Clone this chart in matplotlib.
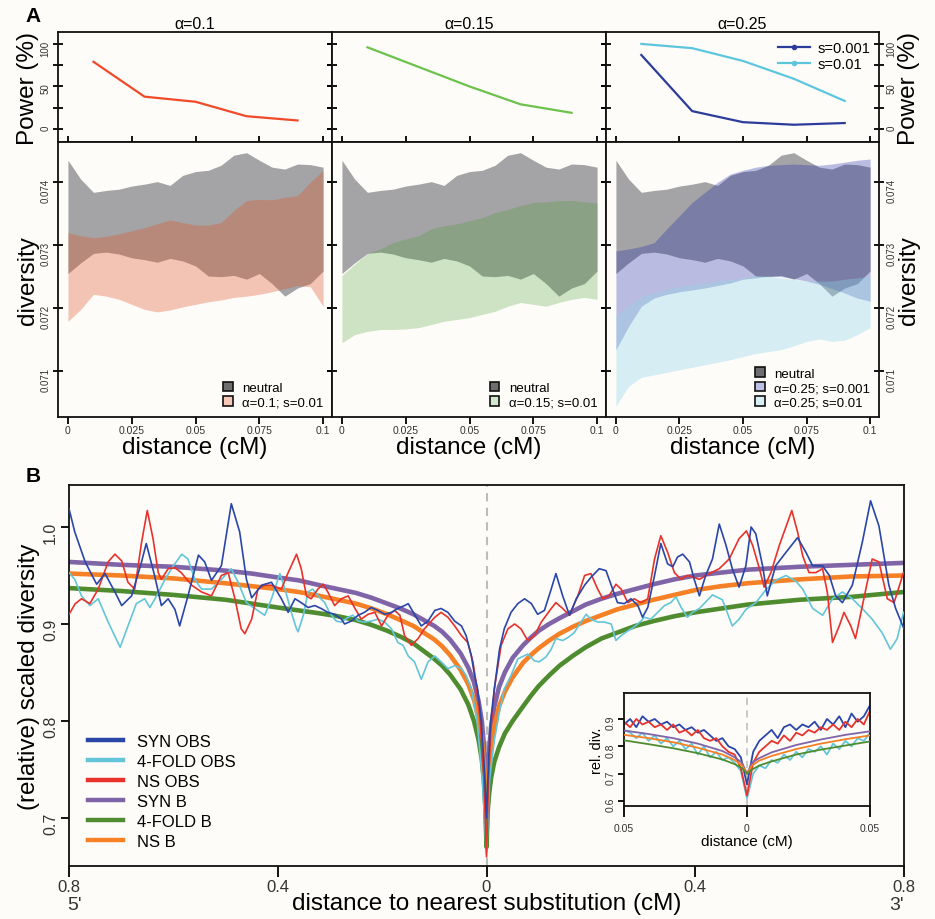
import matplotlib
matplotlib.use('Agg')
import matplotlib.pyplot as plt
from matplotlib.lines import Line2D
from matplotlib.patches import Patch

plt.rcParams['font.family'] = ['Liberation Sans', 'DejaVu Sans']

BG = '#fdfcf9'

# ── Panel A: power of the test ───────────────────────────────────────────────
POWER_DIST = [0.01, 0.03, 0.05, 0.07, 0.09]
power_a010 = [79, 38, 32, 15, 10]
power_a015 = [96, 73, 50, 29, 19]
power_a025_s0001 = [87, 21, 8, 5, 7]
power_a025_s001 = [100, 95, 80, 59, 33]

# ── Panel A: diversity bands ─────────────────────────────────────────────────
DIV_DIST = [0.0, 0.005, 0.01, 0.015, 0.02, 0.025, 0.03, 0.035, 0.04, 0.045, 0.05,
            0.055, 0.06, 0.065, 0.07, 0.075, 0.08, 0.085, 0.09, 0.095, 0.1]
neutral_hi = [0.07435, 0.07405, 0.07384, 0.07387, 0.07389, 0.07394, 0.07397, 0.07401, 0.07395, 0.07411, 0.07417,
              0.07419, 0.07427, 0.07443, 0.07447, 0.07435, 0.07424, 0.07421, 0.07429, 0.07428, 0.07424]
neutral_lo = [0.07255, 0.07272, 0.07287, 0.07289, 0.07286, 0.07280, 0.07277, 0.07273, 0.07279, 0.07275, 0.07267,
              0.07251, 0.07250, 0.07252, 0.07246, 0.07255, 0.07239, 0.07219, 0.07232, 0.07239, 0.07259]
a010_hi = [0.07320, 0.07315, 0.07312, 0.07314, 0.07318, 0.07323, 0.07328, 0.07334, 0.07340, 0.07336, 0.07332,
           0.07332, 0.07336, 0.07355, 0.07371, 0.07373, 0.07372, 0.07376, 0.07379, 0.07400, 0.07419]
a010_lo = [0.07179, 0.07198, 0.07222, 0.07219, 0.07214, 0.07206, 0.07198, 0.07194, 0.07197, 0.07202, 0.07206,
           0.07210, 0.07213, 0.07217, 0.07219, 0.07222, 0.07226, 0.07231, 0.07236, 0.07234, 0.07203]
a015_hi = [0.07252, 0.07270, 0.07287, 0.07294, 0.07304, 0.07310, 0.07315, 0.07326, 0.07331, 0.07334, 0.07339,
           0.07344, 0.07352, 0.07357, 0.07363, 0.07368, 0.07369, 0.07371, 0.07371, 0.07369, 0.07367]
a015_lo = [0.07145, 0.07158, 0.07163, 0.07166, 0.07166, 0.07167, 0.07169, 0.07174, 0.07179, 0.07182, 0.07185,
           0.07190, 0.07195, 0.07203, 0.07209, 0.07206, 0.07203, 0.07209, 0.07214, 0.07217, 0.07214]
a025_s0001_hi = [0.07291, 0.07294, 0.07298, 0.07304, 0.07326, 0.07347, 0.07368, 0.07384, 0.07400, 0.07413, 0.07419,
                 0.07424, 0.07427, 0.07428, 0.07429, 0.07428, 0.07427, 0.07429, 0.07432, 0.07435, 0.07437]
a025_s0001_lo = [0.07134, 0.07171, 0.07203, 0.07216, 0.07222, 0.07226, 0.07229, 0.07232, 0.07236, 0.07240, 0.07246,
                 0.07248, 0.07251, 0.07250, 0.07247, 0.07243, 0.07238, 0.07231, 0.07224, 0.07216, 0.07211]
a025_s001_hi = [0.07187, 0.07203, 0.07219, 0.07224, 0.07230, 0.07235, 0.07238, 0.07240, 0.07243, 0.07246, 0.07248,
                0.07251, 0.07251, 0.07248, 0.07246, 0.07243, 0.07243, 0.07243, 0.07246, 0.07248, 0.07251]
a025_s001_lo = [0.07044, 0.07076, 0.07090, 0.07094, 0.07098, 0.07102, 0.07106, 0.07110, 0.07114, 0.07118, 0.07123,
                0.07128, 0.07131, 0.07134, 0.07140, 0.07147, 0.07151, 0.07147, 0.07149, 0.07158, 0.07169]

# ── Panel B: model (B) curves ────────────────────────────────────────────────
B_DIST = [-0.8, -0.7, -0.6, -0.5, -0.45, -0.4, -0.36, -0.32, -0.285, -0.25, -0.22, -0.19, -0.165, -0.14,
          -0.12, -0.1, -0.085, -0.07, -0.05, -0.035, -0.024, -0.015, -0.009, -0.005, -0.002, 0.0,
          0.002, 0.005, 0.009, 0.015, 0.024, 0.035, 0.05, 0.07, 0.085, 0.1, 0.12, 0.14, 0.165, 0.19,
          0.22, 0.25, 0.285, 0.32, 0.36, 0.4, 0.45, 0.5, 0.6, 0.7, 0.8]
syn_b = [0.964, 0.961, 0.959, 0.955, 0.952, 0.948, 0.945, 0.940, 0.936, 0.932, 0.927, 0.921, 0.916, 0.910,
         0.904, 0.898, 0.892, 0.884, 0.870, 0.855, 0.840, 0.820, 0.800, 0.775, 0.740, 0.680,
         0.740, 0.770, 0.795, 0.815, 0.835, 0.850, 0.865, 0.878, 0.886, 0.893, 0.900, 0.906, 0.913, 0.920,
         0.926, 0.931, 0.936, 0.941, 0.946, 0.950, 0.953, 0.956, 0.959, 0.961, 0.963]
ns_b = [0.952, 0.950, 0.947, 0.942, 0.939, 0.936, 0.933, 0.929, 0.925, 0.921, 0.916, 0.910, 0.904, 0.898,
        0.891, 0.884, 0.877, 0.868, 0.853, 0.838, 0.822, 0.802, 0.782, 0.757, 0.725, 0.675,
        0.725, 0.752, 0.775, 0.795, 0.815, 0.830, 0.845, 0.860, 0.868, 0.875, 0.883, 0.890, 0.897, 0.903,
        0.909, 0.915, 0.920, 0.925, 0.930, 0.935, 0.939, 0.942, 0.946, 0.949, 0.950]
fold_b = [0.937, 0.934, 0.930, 0.925, 0.921, 0.917, 0.914, 0.911, 0.908, 0.904, 0.899, 0.893, 0.887, 0.880,
          0.872, 0.864, 0.857, 0.848, 0.833, 0.817, 0.800, 0.780, 0.760, 0.738, 0.710, 0.670,
          0.705, 0.725, 0.742, 0.758, 0.773, 0.787, 0.800, 0.815, 0.826, 0.836, 0.847, 0.857, 0.867, 0.876,
          0.885, 0.891, 0.898, 0.903, 0.908, 0.912, 0.916, 0.920, 0.925, 0.928, 0.933]

# ── Panel B: observed curves ─────────────────────────────────────────────────
syn_obs_x = [-0.800, -0.789, -0.769, -0.747, -0.731, -0.712, -0.699, -0.680, -0.661, -0.652, -0.636, -0.623,
             -0.610, -0.597, -0.588, -0.572, -0.552, -0.540, -0.527, -0.508, -0.489, -0.473, -0.460, -0.450,
             -0.431, -0.412, -0.393, -0.380, -0.367, -0.355, -0.342, -0.329, -0.317, -0.304, -0.291, -0.278,
             -0.272, -0.259, -0.246, -0.234, -0.221, -0.208, -0.195, -0.182, -0.170, -0.157, -0.150, -0.138,
             -0.125, -0.112, -0.099, -0.087, -0.074, -0.061, -0.048, -0.039, -0.029, -0.023, -0.017, -0.010,
             -0.004, 0.0, 0.004, 0.008, 0.015, 0.025, 0.034, 0.047, 0.060, 0.073, 0.086, 0.098, 0.111, 0.124,
             0.133, 0.146, 0.159, 0.172, 0.188, 0.200, 0.216, 0.229, 0.239, 0.251, 0.264, 0.277, 0.290, 0.299,
             0.309, 0.322, 0.334, 0.347, 0.357, 0.366, 0.376, 0.389, 0.398, 0.408, 0.420, 0.433, 0.446, 0.459,
             0.471, 0.484, 0.497, 0.507, 0.516, 0.529, 0.538, 0.554, 0.574, 0.596, 0.612, 0.625, 0.644, 0.657,
             0.669, 0.682, 0.701, 0.720, 0.736, 0.752, 0.771, 0.784, 0.800]
syn_obs_y = [1.019, 0.995, 0.964, 0.941, 0.952, 0.933, 0.919, 0.929, 0.964, 0.983, 0.950, 0.919,
             0.926, 0.915, 0.898, 0.929, 0.971, 0.964, 0.945, 0.960, 1.024, 0.995, 0.946, 0.927,
             0.940, 0.943, 0.926, 0.912, 0.926, 0.922, 0.917, 0.919, 0.916, 0.912, 0.910, 0.905,
             0.900, 0.903, 0.909, 0.912, 0.917, 0.914, 0.910, 0.912, 0.916, 0.919, 0.921, 0.910,
             0.898, 0.903, 0.914, 0.916, 0.912, 0.903, 0.898, 0.888, 0.867, 0.847, 0.833, 0.800,
             0.750, 0.700, 0.760, 0.800, 0.833, 0.874, 0.895, 0.912, 0.921, 0.926, 0.921, 0.910, 0.914, 0.936,
             0.952, 0.929, 0.909, 0.926, 0.940, 0.948, 0.957, 0.955, 0.940, 0.922, 0.921, 0.926, 0.919, 0.907,
             0.917, 0.950, 0.983, 0.962, 0.959, 0.969, 0.972, 0.964, 0.946, 0.929, 0.950, 0.967, 1.003, 0.981,
             0.957, 0.938, 0.960, 1.000, 0.993, 0.960, 0.929, 0.960, 0.974, 0.989, 0.974, 0.960, 0.960, 0.950,
             0.929, 0.922, 0.940, 0.984, 1.027, 1.001, 0.940, 0.916, 0.895]

fold_obs_x = [-0.800, -0.789, -0.776, -0.760, -0.744, -0.725, -0.702, -0.687, -0.671, -0.655, -0.645, -0.632,
              -0.616, -0.600, -0.584, -0.572, -0.559, -0.546, -0.527, -0.508, -0.489, -0.476, -0.460, -0.444,
              -0.425, -0.412, -0.396, -0.386, -0.374, -0.364, -0.361, -0.351, -0.342, -0.333, -0.323, -0.310,
              -0.301, -0.288, -0.278, -0.265, -0.256, -0.246, -0.234, -0.221, -0.208, -0.195, -0.182, -0.170,
              -0.160, -0.150, -0.138, -0.125, -0.112, -0.099, -0.087, -0.074, -0.061, -0.048, -0.039, -0.029,
              -0.018, -0.008, 0.0, 0.006, 0.015, 0.025, 0.034, 0.047, 0.060, 0.079, 0.092, 0.101, 0.114, 0.124,
              0.133, 0.146, 0.156, 0.168, 0.181, 0.191, 0.200, 0.213, 0.226, 0.239, 0.248, 0.258, 0.271, 0.283,
              0.296, 0.302, 0.315, 0.328, 0.341, 0.353, 0.363, 0.373, 0.385, 0.395, 0.408, 0.433, 0.452, 0.471,
              0.484, 0.497, 0.516, 0.535, 0.554, 0.574, 0.593, 0.606, 0.625, 0.644, 0.663, 0.682, 0.701, 0.720,
              0.739, 0.758, 0.774, 0.787, 0.799]
fold_obs_y = [0.953, 0.946, 0.929, 0.919, 0.926, 0.902, 0.876, 0.898, 0.921, 0.926, 0.917, 0.929,
              0.946, 0.960, 0.972, 0.967, 0.946, 0.936, 0.936, 0.946, 0.957, 0.943, 0.922, 0.916,
              0.909, 0.926, 0.952, 0.936, 0.912, 0.895, 0.892, 0.909, 0.933, 0.936, 0.929, 0.922,
              0.912, 0.903, 0.902, 0.907, 0.909, 0.903, 0.902, 0.903, 0.905, 0.902, 0.895, 0.881,
              0.878, 0.867, 0.861, 0.843, 0.861, 0.867, 0.861, 0.854, 0.857, 0.854, 0.847, 0.833,
              0.800, 0.740, 0.663, 0.740, 0.780, 0.810, 0.833, 0.847, 0.864, 0.869, 0.862, 0.861, 0.866, 0.874,
              0.885, 0.883, 0.886, 0.891, 0.902, 0.910, 0.905, 0.902, 0.902, 0.900, 0.883, 0.888, 0.893, 0.897,
              0.903, 0.907, 0.905, 0.912, 0.919, 0.922, 0.928, 0.917, 0.907, 0.912, 0.916, 0.930, 0.925, 0.898,
              0.905, 0.915, 0.922, 0.935, 0.945, 0.950, 0.944, 0.936, 0.916, 0.909, 0.926, 0.933, 0.926, 0.916,
              0.905, 0.891, 0.874, 0.885, 0.912]

ns_obs_x = [-0.800, -0.788, -0.776, -0.760, -0.744, -0.725, -0.712, -0.699, -0.687, -0.674, -0.661, -0.650,
            -0.639, -0.629, -0.623, -0.610, -0.597, -0.585, -0.565, -0.546, -0.527, -0.508, -0.495, -0.482,
            -0.470, -0.463, -0.450, -0.438, -0.425, -0.412, -0.393, -0.380, -0.364, -0.355, -0.345, -0.336,
            -0.323, -0.313, -0.304, -0.291, -0.278, -0.265, -0.253, -0.240, -0.227, -0.214, -0.201, -0.189,
            -0.176, -0.166, -0.157, -0.144, -0.131, -0.119, -0.099, -0.087, -0.074, -0.061, -0.048, -0.036,
            -0.026, -0.020, -0.012, -0.005, 0.0, 0.004, 0.008, 0.015, 0.028, 0.041, 0.054, 0.066, 0.079, 0.092,
            0.105, 0.124, 0.133, 0.146, 0.159, 0.175, 0.188, 0.200, 0.213, 0.223, 0.235, 0.248, 0.258, 0.271,
            0.283, 0.296, 0.309, 0.322, 0.334, 0.347, 0.360, 0.373, 0.385, 0.398, 0.408, 0.427, 0.446, 0.465,
            0.484, 0.498, 0.510, 0.523, 0.532, 0.545, 0.561, 0.577, 0.585, 0.596, 0.606, 0.618, 0.631, 0.644,
            0.653, 0.663, 0.676, 0.685, 0.698, 0.707, 0.723, 0.739, 0.752, 0.768, 0.781, 0.799]
ns_obs_y = [0.910, 0.921, 0.926, 0.921, 0.936, 0.964, 0.972, 0.965, 0.943, 0.936, 0.984, 1.017,
            0.988, 0.953, 0.946, 0.957, 0.958, 0.953, 0.940, 0.933, 0.929, 0.950, 0.953, 0.926,
            0.895, 0.890, 0.905, 0.936, 0.940, 0.940, 0.936, 0.953, 0.972, 0.957, 0.929, 0.926,
            0.936, 0.941, 0.933, 0.919, 0.926, 0.929, 0.917, 0.905, 0.910, 0.912, 0.898, 0.909,
            0.914, 0.909, 0.888, 0.878, 0.885, 0.895, 0.907, 0.912, 0.907, 0.898, 0.888, 0.881,
            0.861, 0.840, 0.800, 0.740, 0.660, 0.740, 0.790, 0.833, 0.878, 0.895, 0.900, 0.895, 0.883, 0.888,
            0.902, 0.916, 0.922, 0.916, 0.909, 0.929, 0.950, 0.952, 0.936, 0.926, 0.929, 0.941, 0.936, 0.922,
            0.926, 0.922, 0.926, 0.967, 0.991, 0.974, 0.953, 0.946, 0.950, 0.948, 0.946, 0.952, 0.957, 0.967,
            0.988, 0.996, 0.981, 0.957, 0.938, 0.953, 0.981, 1.005, 1.017, 0.995, 0.970, 0.953, 0.953, 0.957,
            0.933, 0.881, 0.898, 0.912, 0.898, 0.885, 0.926, 0.967, 0.964, 0.926, 0.922, 0.953]

# ── Inset: close-up around the substitution ──────────────────────────────────
INSET_X = [-0.05, -0.0475, -0.045, -0.0425, -0.04, -0.0375, -0.035, -0.0325, -0.03, -0.0275, -0.025,
           -0.0225, -0.02, -0.0175, -0.015, -0.0125, -0.01, -0.0075, -0.005, -0.0025, 0.0, 0.0025, 0.005,
           0.0075, 0.01, 0.0125, 0.015, 0.0175, 0.02, 0.0225, 0.025, 0.0275, 0.03, 0.0325, 0.035, 0.0375,
           0.04, 0.0425, 0.045, 0.0475, 0.05]
inset_syn_obs = [0.88, 0.90, 0.87, 0.91, 0.89, 0.90, 0.88, 0.89, 0.87, 0.88, 0.86, 0.87, 0.85, 0.86, 0.84,
                 0.82, 0.83, 0.80, 0.79, 0.76, 0.66, 0.78, 0.82, 0.84, 0.86, 0.83, 0.87, 0.88, 0.86, 0.88,
                 0.87, 0.89, 0.86, 0.90, 0.88, 0.91, 0.87, 0.92, 0.89, 0.91, 0.95]
inset_ns_obs = [0.89, 0.87, 0.90, 0.88, 0.89, 0.87, 0.88, 0.86, 0.88, 0.85, 0.86, 0.84, 0.86, 0.83, 0.82,
                0.83, 0.80, 0.78, 0.77, 0.72, 0.62, 0.74, 0.78, 0.80, 0.82, 0.81, 0.84, 0.82, 0.85, 0.84,
                0.86, 0.85, 0.87, 0.86, 0.88, 0.86, 0.89, 0.87, 0.90, 0.88, 0.93]
inset_fold_obs = [0.86, 0.85, 0.83, 0.85, 0.82, 0.84, 0.81, 0.83, 0.80, 0.82, 0.79, 0.81, 0.77, 0.80, 0.76,
                  0.78, 0.75, 0.76, 0.74, 0.71, 0.61, 0.70, 0.73, 0.72, 0.75, 0.74, 0.77, 0.75, 0.78, 0.76,
                  0.79, 0.78, 0.80, 0.77, 0.81, 0.79, 0.82, 0.80, 0.83, 0.82, 0.85]
INSET_BX = [-0.05, -0.04, -0.03, -0.02, -0.01, -0.005, -0.002, 0.0, 0.002, 0.005, 0.01, 0.02, 0.03, 0.04, 0.05]
inset_syn_b = [0.858, 0.845, 0.830, 0.810, 0.783, 0.760, 0.740, 0.700, 0.740, 0.757, 0.778, 0.805, 0.825, 0.842, 0.855]
inset_ns_b = [0.842, 0.830, 0.815, 0.795, 0.770, 0.750, 0.730, 0.700, 0.730, 0.748, 0.765, 0.790, 0.810, 0.826, 0.840]
inset_fold_b = [0.822, 0.808, 0.793, 0.775, 0.752, 0.735, 0.720, 0.700, 0.715, 0.730, 0.745, 0.770, 0.788, 0.803, 0.818]

# ── Colours ──────────────────────────────────────────────────────────────────
C_SYN_OBS = '#2a46a8'
C_FOLD_OBS = '#62c6d8'
C_NS_OBS = '#e8322a'
C_SYN_B = '#8064a8'
C_FOLD_B = '#4f8c2f'
C_NS_B = '#f58025'
C_NEUTRAL = '#a4a4a7'
TICK_C = '#333333'

fig = plt.figure(figsize=(9.35, 9.2), dpi=100, facecolor=BG)


def px_axes(x0, y0, w, h):
    """Axes placed in pixel coordinates of the 935x920 canvas (top-left origin)."""
    ax = fig.add_axes([x0 / 935, 1 - (y0 + h) / 920, w / 935, h / 920])
    ax.set_facecolor(BG)
    for sp in ax.spines.values():
        sp.set_linewidth(1.3)
        sp.set_color('#111111')
    return ax


# ============================================================
# PANEL A
# ============================================================
panels = [
    ('\u03b1=0.1', [(power_a010, '#f04a2a')],
     [(a010_lo, a010_hi, '#e05020', 0.32)],
     [('\u03b1=0.1; s=0.01', '#f6c8b8')]),
    ('\u03b1=0.15', [(power_a015, '#6cc24a')],
     [(a015_lo, a015_hi, '#409c24', 0.25)],
     [('\u03b1=0.15; s=0.01', '#d2e8cc')]),
    ('\u03b1=0.25', [(power_a025_s0001, '#2b3c9b'), (power_a025_s001, '#5ec6dc')],
     [(a025_s0001_lo, a025_s0001_hi, '#1c28a8', 0.30), (a025_s001_lo, a025_s001_hi, '#8fd3e8', 0.35)],
     [('\u03b1=0.25; s=0.001', '#bcbfe6'), ('\u03b1=0.25; s=0.01', '#d8f0f6')]),
]
LEFTS = [58, 332, 606]
WIDTHS = [274, 274, 273]

for i, (title, lines, bands, leg) in enumerate(panels):
    axp = px_axes(LEFTS[i], 33, WIDTHS[i], 110)
    axd = px_axes(LEFTS[i], 143, WIDTHS[i], 275)

    # power curves
    for vals, col in lines:
        axp.plot(POWER_DIST, vals, color=col, lw=1.6)
    axp.set_xlim(-0.0039, 0.1035)
    axp.set_ylim(-15.3, 114)
    axp.set_title(title, fontsize=11.5, pad=3)
    axp.set_yticks([0, 25, 50, 75, 100])
    axp.set_yticklabels(['0', '', '50', '', '100'])
    axp.set_xticks([0, 0.025, 0.05, 0.075, 0.1])
    axp.tick_params(axis='x', direction='inout', length=8, width=1.3, labelbottom=False)
    axp.tick_params(axis='y', direction='inout', length=7, width=1.3, left=True, right=True,
                    labelleft=(i == 0), labelright=(i == 2), labelsize=7, labelrotation=90,
                    labelcolor=TICK_C, pad=2)

    # diversity bands
    axd.fill_between(DIV_DIST, neutral_lo, neutral_hi, color=C_NEUTRAL, lw=0)
    for lo, hi, col, alpha in bands:
        axd.fill_between(DIV_DIST, lo, hi, color=col, alpha=alpha, lw=0)
    axd.set_xlim(-0.0039, 0.1035)
    axd.set_ylim(0.07027, 0.07464)
    axd.set_yticks([0.071, 0.072, 0.073, 0.074])
    axd.set_yticklabels(['0.071', '0.072', '0.073', '0.074'])
    axd.set_xticks([0, 0.025, 0.05, 0.075, 0.1])
    axd.set_xticklabels(['0', '0.025', '0.05', '0.075', '0.1'])
    axd.tick_params(axis='x', direction='out', length=5, width=1.3, labelsize=7.5, labelcolor=TICK_C, pad=1)
    axd.tick_params(axis='y', direction='inout', length=7, width=1.3, left=True, right=True,
                    labelleft=(i == 0), labelright=(i == 2), labelsize=7, labelrotation=90,
                    labelcolor=TICK_C, pad=2)
    axd.set_xlabel('distance (cM)', fontsize=17.5, labelpad=0.5)

    handles = [Patch(facecolor='#6e6e70', edgecolor='#111111', lw=1.2, label='neutral')]
    for lab, col in leg:
        handles.append(Patch(facecolor=col, edgecolor='#111111', lw=1.2, label=lab))
    axd.legend(handles=handles, loc='lower right', frameon=False, fontsize=9.5,
               handlelength=0.75, handleheight=0.75, handletextpad=0.7, labelspacing=0.15,
               borderaxespad=0.25)

    if i == 0:
        axp.set_ylabel('Power (%)', fontsize=17.5, labelpad=1)
        axd.set_ylabel('diversity', fontsize=17.5, labelpad=1)
    if i == 2:
        for ax, lab in ((axp, 'Power (%)'), (axd, 'diversity')):
            ax.yaxis.set_label_position('right')
            ax.set_ylabel(lab, fontsize=17.5, labelpad=1, rotation=90)
        pw_handles = [Line2D([], [], color='#2b3c9b', lw=1.6, marker='o', ms=3, label='s=0.001'),
                      Line2D([], [], color='#5ec6dc', lw=1.6, marker='o', ms=3, label='s=0.01')]
        axp.legend(handles=pw_handles, loc='upper right', frameon=False, fontsize=10.5,
                   handlelength=2.2, handletextpad=0.5, labelspacing=0.15, borderaxespad=0.2)

fig.text(33 / 935, 1 - 16 / 920, 'A', fontsize=15, fontweight='bold', ha='center', va='center')

# ============================================================
# PANEL B
# ============================================================
axb = px_axes(69, 486, 835, 381)
axb.axvline(0, color='#bcbcbc', lw=1.5, ls=(0, (4, 3)), zorder=1)
axb.plot(B_DIST, syn_b, color=C_SYN_B, lw=3.3, solid_capstyle='round', zorder=2)
axb.plot(B_DIST, ns_b, color=C_NS_B, lw=3.3, solid_capstyle='round', zorder=2)
axb.plot(B_DIST, fold_b, color=C_FOLD_B, lw=3.3, solid_capstyle='round', zorder=2)
axb.plot(fold_obs_x, fold_obs_y, color=C_FOLD_OBS, lw=1.2, zorder=3)
axb.plot(ns_obs_x, ns_obs_y, color=C_NS_OBS, lw=1.2, zorder=3)
axb.plot(syn_obs_x, syn_obs_y, color=C_SYN_OBS, lw=1.2, zorder=3)

axb.set_xlim(-0.8, 0.8)
axb.set_ylim(0.6505, 1.0433)
axb.set_xticks([-0.8, -0.4, 0, 0.4, 0.8])
axb.set_xticklabels(['0.8', '0.4', '0', '0.4', '0.8'])
axb.set_yticks([0.7, 0.8, 0.9, 1.0])
axb.set_yticklabels(['0.7', '0.8', '0.9', '1.0'])
axb.tick_params(axis='x', direction='out', length=8, width=1.3, labelsize=12, labelcolor=TICK_C, pad=1)
axb.tick_params(axis='y', direction='out', length=6, width=1.3, labelsize=11.5, labelrotation=90,
                labelcolor=TICK_C, pad=2)
axb.set_xlabel('distance to nearest substitution (cM)', fontsize=17.5, labelpad=-1)
axb.set_ylabel('(relative) scaled diversity', fontsize=17.5, labelpad=2)

b_handles = [Line2D([], [], color=C_SYN_OBS, lw=3.2, label='SYN OBS'),
             Line2D([], [], color=C_FOLD_OBS, lw=3.2, label='4-FOLD OBS'),
             Line2D([], [], color=C_NS_OBS, lw=3.2, label='NS OBS'),
             Line2D([], [], color=C_SYN_B, lw=3.2, label='SYN B'),
             Line2D([], [], color=C_FOLD_B, lw=3.2, label='4-FOLD B'),
             Line2D([], [], color=C_NS_B, lw=3.2, label='NS B')]
axb.legend(handles=b_handles, loc='lower left', bbox_to_anchor=(0.005, 0.005), frameon=False,
           fontsize=12, handlelength=2.1, handletextpad=0.8, labelspacing=0.3)

fig.text(75 / 935, 1 - 906 / 920, "5'", fontsize=14, ha='center', va='center', color=TICK_C)
fig.text(897 / 935, 1 - 906 / 920, "3'", fontsize=14, ha='center', va='center', color=TICK_C)
fig.text(33 / 935, 1 - 477 / 920, 'B', fontsize=15, fontweight='bold', ha='center', va='center')

# ── Inset ────────────────────────────────────────────────────────────────────
axi = px_axes(624, 694, 246, 113)
axi.axvline(0, color='#c4c4c4', lw=1.3, ls=(0, (4, 3)), zorder=1)
axi.plot(INSET_X, inset_fold_obs, color=C_FOLD_OBS, lw=1.3, zorder=2)
axi.plot(INSET_X, inset_syn_obs, color=C_SYN_OBS, lw=1.3, zorder=2)
axi.plot(INSET_X, inset_ns_obs, color=C_NS_OBS, lw=1.3, zorder=2)
axi.plot(INSET_BX, inset_syn_b, color=C_SYN_B, lw=1.3, zorder=3)
axi.plot(INSET_BX, inset_ns_b, color=C_NS_B, lw=1.3, zorder=3)
axi.plot(INSET_BX, inset_fold_b, color=C_FOLD_B, lw=1.3, zorder=3)
axi.set_xlim(-0.05, 0.05)
axi.set_ylim(0.582, 0.995)
axi.set_xticks([-0.05, 0, 0.05])
axi.set_xticklabels(['0.05', '0', '0.05'])
axi.set_yticks([0.6, 0.7, 0.8, 0.9])
axi.set_yticklabels(['0.6', '0.7', '0.8', '0.9'])
axi.tick_params(axis='x', direction='out', length=8, width=1.3, labelsize=7.5, labelcolor=TICK_C, pad=4)
axi.tick_params(axis='y', direction='out', length=4, width=1.3, labelsize=7.5, labelrotation=90,
                labelcolor=TICK_C, pad=2)
axi.set_xlabel('distance (cM)', fontsize=11, labelpad=1)
axi.set_ylabel('rel. div.', fontsize=10.5, labelpad=1)

fig.savefig('out.png', dpi=100, facecolor=BG)
